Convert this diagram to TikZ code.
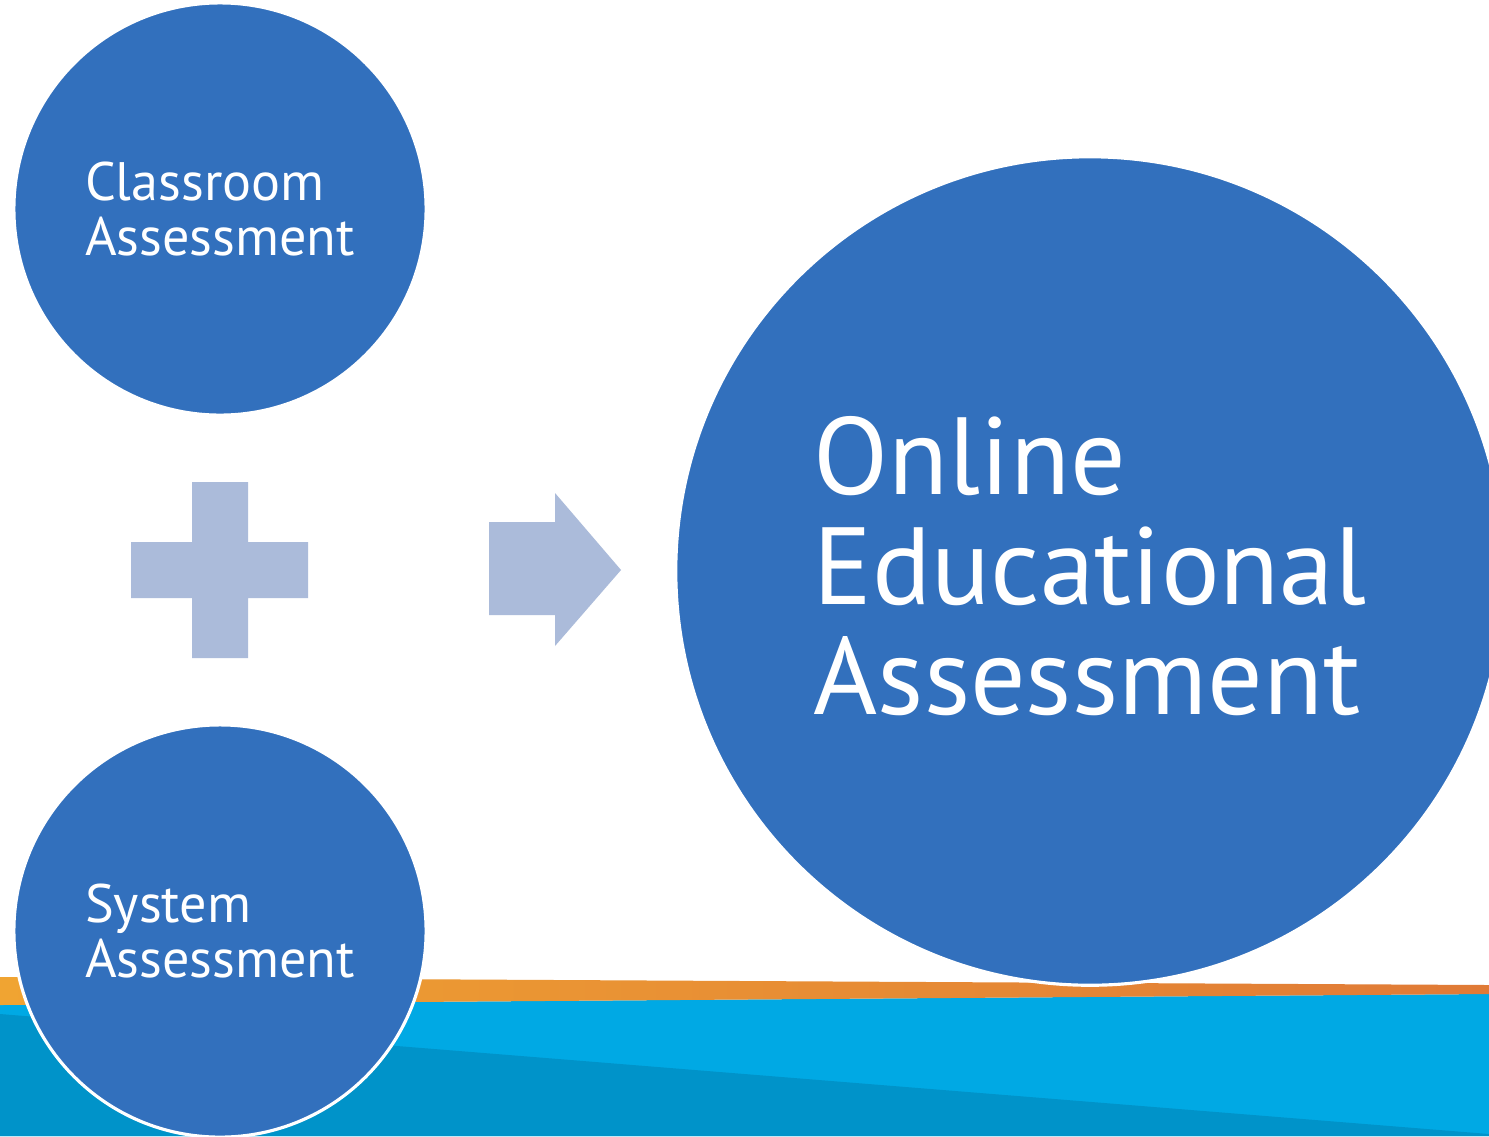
\documentclass[tikz,border=0pt]{standalone}
\usepackage{fontspec}
\setmainfont{PT Sans}
\usetikzlibrary{shapes}

\definecolor{circblue}{RGB}{50,112,189}
\definecolor{signblue}{RGB}{171,187,218}
\definecolor{orangeL}{RGB}{240,164,50}
\definecolor{orangeR}{RGB}{224,122,54}
\definecolor{bandlight}{RGB}{0,169,228}
\definecolor{banddark}{RGB}{0,147,201}

\tikzset{
  assess/.style={circle, fill=circblue, draw=white, line width=0.9pt, inner sep=0pt, text=white, align=left},
  smallassess/.style={assess, minimum size=4.12cm, font=\fontsize{15.4}{15.9}\selectfont},
  bigassess/.style={assess, minimum size=8.28cm, text depth=3.4pt, font=\fontsize{31.2}{31.3}\selectfont},
  sign/.style={fill=signblue}
}

\begin{document}
\begin{tikzpicture}[x=0.01cm,y=-0.01cm]
\useasboundingbox (0,0) rectangle (1489,1136);
\fill[white] (0,0) rectangle (1489,1136);

% bands at the bottom
\fill[bandlight] (0,1005) -- (1489,994) -- (1489,1136) -- (0,1136) -- cycle;
\shade[left color=orangeL, right color=orangeR] (0,977) -- (1489,985) -- (1489,994) -- (0,1005) -- cycle;
\fill[banddark] (0,1014) -- (1489,1134) -- (1489,1136) -- (0,1136) -- cycle;

% the three assessments
\node[smallassess] (classroom) at (220,209) {Classroom\\Assessment};
\node[smallassess] (system) at (220,931) {System\\Assessment};
\node[bigassess] (online) at (1090,571) {Online\\Educational\\Assessment};

% plus
\fill[sign] (192,482) -- (248,482) -- (248,542) -- (308,542) -- (308,598) -- (248,598)
  -- (248,658) -- (192,658) -- (192,598) -- (131,598) -- (131,542) -- (192,542) -- cycle;

% arrow
\fill[sign] (489,522) -- (555,522) -- (555,493) -- (621,570) -- (555,646) -- (555,615)
  -- (489,615) -- cycle;
\end{tikzpicture}
\end{document}
